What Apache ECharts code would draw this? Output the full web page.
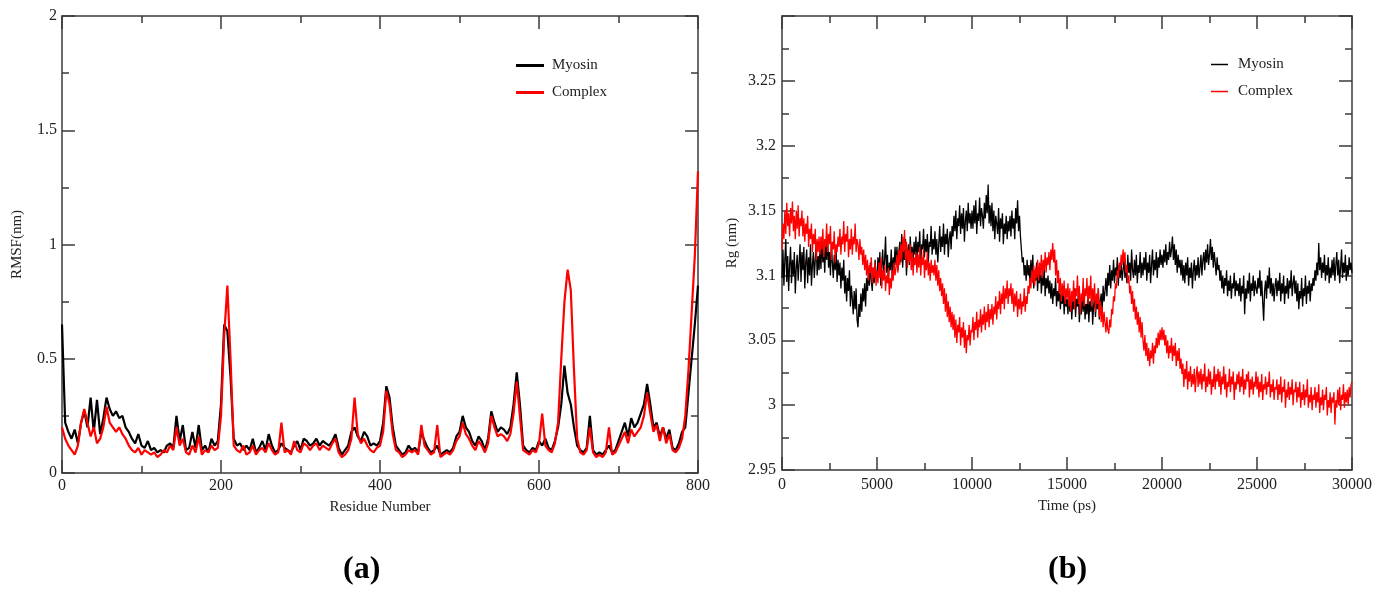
<!DOCTYPE html>
<html>
<head>
<meta charset="utf-8">
<script src="https://cdn.jsdelivr.net/npm/echarts@6/dist/echarts.min.js"></script>
<style>
html,body{margin:0;padding:0;background:#fff;}
#chart{width:1387px;height:596px;}
</style>
</head>
<body>
<div id="chart"></div>
<script>
// ---------- Panel (a): RMSF per residue (sampled every 4 residues) ----------
const residueStep = 4;
const rmsfMyosin = [
0.65,0.22,0.18,0.15,0.19,0.13,0.22,0.27,0.20,0.33,
0.18,0.32,0.17,0.24,0.33,0.28,0.25,0.27,0.24,0.25,
0.20,0.18,0.15,0.13,0.17,0.12,0.11,0.14,0.10,0.11,
0.09,0.10,0.09,0.12,0.13,0.11,0.25,0.14,0.21,0.10,
0.11,0.18,0.11,0.21,0.10,0.12,0.09,0.15,0.12,0.14,
0.30,0.65,0.62,0.42,0.15,0.12,0.13,0.10,0.12,0.10,
0.15,0.09,0.11,0.14,0.10,0.17,0.12,0.09,0.10,0.13,
0.11,0.10,0.09,0.12,0.14,0.10,0.15,0.14,0.12,0.13,
0.15,0.12,0.14,0.13,0.12,0.14,0.17,0.11,0.08,0.10,
0.12,0.18,0.20,0.16,0.14,0.18,0.16,0.12,0.13,0.12,
0.14,0.22,0.38,0.33,0.20,0.12,0.10,0.08,0.09,0.12,
0.10,0.11,0.09,0.18,0.14,0.11,0.09,0.10,0.12,0.08,
0.09,0.10,0.09,0.11,0.16,0.18,0.25,0.20,0.18,0.14,
0.12,0.16,0.14,0.10,0.15,0.27,0.22,0.18,0.20,0.19,
0.17,0.20,0.30,0.44,0.30,0.12,0.10,0.09,0.11,0.10,
0.14,0.12,0.15,0.11,0.10,0.14,0.20,0.30,0.47,0.35,
0.30,0.20,0.12,0.10,0.09,0.11,0.25,0.10,0.08,0.09,
0.08,0.10,0.12,0.09,0.10,0.14,0.18,0.22,0.16,0.24,
0.20,0.22,0.26,0.30,0.39,0.30,0.20,0.22,0.16,0.20,
0.15,0.19,0.11,0.10,0.13,0.18,0.20,0.35,0.50,0.65,
0.82
];
const rmsfComplex = [
0.20,0.15,0.12,0.10,0.08,0.12,0.22,0.28,0.22,0.16,
0.20,0.13,0.15,0.20,0.29,0.22,0.20,0.18,0.20,0.17,
0.15,0.12,0.10,0.09,0.11,0.08,0.10,0.09,0.08,0.09,
0.07,0.08,0.10,0.09,0.12,0.10,0.20,0.12,0.15,0.09,
0.08,0.12,0.09,0.16,0.08,0.10,0.09,0.12,0.10,0.11,
0.25,0.60,0.82,0.50,0.12,0.10,0.09,0.12,0.08,0.09,
0.12,0.08,0.10,0.11,0.09,0.13,0.10,0.08,0.09,0.22,
0.09,0.10,0.08,0.14,0.10,0.09,0.13,0.12,0.10,0.12,
0.13,0.10,0.12,0.11,0.10,0.13,0.15,0.09,0.07,0.08,
0.10,0.15,0.33,0.17,0.13,0.15,0.12,0.10,0.09,0.11,
0.12,0.18,0.36,0.30,0.17,0.10,0.09,0.07,0.08,0.10,
0.09,0.10,0.08,0.21,0.12,0.10,0.08,0.09,0.21,0.07,
0.08,0.09,0.08,0.10,0.14,0.16,0.22,0.17,0.15,0.12,
0.10,0.14,0.12,0.09,0.13,0.25,0.20,0.16,0.17,0.16,
0.14,0.17,0.26,0.40,0.25,0.10,0.09,0.08,0.10,0.09,
0.13,0.26,0.12,0.10,0.09,0.13,0.22,0.50,0.75,0.89,
0.80,0.45,0.15,0.09,0.08,0.10,0.20,0.09,0.07,0.08,
0.07,0.09,0.20,0.08,0.09,0.12,0.15,0.18,0.13,0.19,
0.16,0.18,0.20,0.25,0.35,0.26,0.18,0.21,0.14,0.20,
0.13,0.17,0.10,0.09,0.11,0.15,0.25,0.45,0.70,0.95,
1.32
];

// ---------- Panel (b): Rg vs time (sampled every 50 ps) ----------
const timeStep = 50;
const rgMyosin = [
3.098,3.120,3.092,3.112,3.128,3.095,3.115,3.088,3.108,3.122,3.094,3.112,3.100,3.118,3.086,3.106,3.116,3.096,3.110,3.124,
3.095,3.118,3.104,3.122,3.090,3.110,3.120,3.094,3.114,3.100,3.124,3.092,3.108,3.118,3.098,3.112,3.126,3.100,3.115,3.104,
3.122,3.105,3.128,3.110,3.120,3.102,3.126,3.112,3.130,3.106,3.118,3.100,3.124,3.110,3.098,3.116,3.104,3.120,3.095,3.112,
3.100,3.110,3.090,3.106,3.096,3.112,3.086,3.100,3.080,3.098,3.088,3.104,3.076,3.092,3.082,3.070,3.088,3.074,3.090,3.066,
3.060,3.078,3.068,3.086,3.072,3.090,3.080,3.094,3.076,3.098,3.088,3.104,3.092,3.110,3.096,3.088,3.106,3.094,3.112,3.100,
3.096,3.114,3.102,3.118,3.092,3.108,3.120,3.098,3.112,3.130,3.102,3.116,3.094,3.110,3.104,3.120,3.098,3.114,3.106,3.122,
3.108,3.122,3.104,3.118,3.126,3.110,3.132,3.106,3.120,3.112,3.128,3.100,3.116,3.124,3.108,3.130,3.114,3.122,3.110,3.126,
3.116,3.130,3.112,3.126,3.118,3.134,3.108,3.124,3.120,3.136,3.114,3.128,3.118,3.132,3.110,3.126,3.122,3.138,3.116,3.128,
3.120,3.134,3.116,3.128,3.110,3.124,3.138,3.118,3.130,3.122,3.140,3.116,3.132,3.124,3.136,3.114,3.128,3.134,3.120,3.138,
3.130,3.146,3.134,3.150,3.128,3.144,3.138,3.154,3.132,3.148,3.136,3.152,3.126,3.142,3.150,3.134,3.156,3.140,3.148,3.136,
3.150,3.136,3.154,3.140,3.158,3.132,3.148,3.142,3.160,3.138,3.152,3.146,3.136,3.156,3.144,3.162,3.148,3.170,3.140,3.154,
3.138,3.156,3.134,3.150,3.128,3.146,3.140,3.132,3.152,3.126,3.144,3.136,3.148,3.124,3.140,3.132,3.146,3.128,3.142,3.134,
3.146,3.130,3.150,3.136,3.144,3.128,3.152,3.140,3.158,3.134,3.146,3.130,3.120,3.110,3.114,3.100,3.108,3.096,3.112,3.100,
3.108,3.094,3.112,3.098,3.116,3.090,3.104,3.096,3.110,3.088,3.102,3.094,3.108,3.086,3.100,3.092,3.106,3.084,3.098,3.090,
3.100,3.086,3.096,3.082,3.094,3.078,3.090,3.084,3.098,3.076,3.088,3.080,3.092,3.074,3.086,3.078,3.090,3.070,3.084,3.076,
3.082,3.070,3.088,3.072,3.084,3.066,3.080,3.074,3.090,3.068,3.082,3.076,3.086,3.064,3.078,3.070,3.084,3.072,3.088,3.066,
3.078,3.070,3.086,3.064,3.080,3.072,3.088,3.062,3.076,3.084,3.068,3.082,3.074,3.090,3.066,3.080,3.086,3.072,3.092,3.080,
3.088,3.098,3.084,3.102,3.092,3.108,3.090,3.104,3.096,3.112,3.094,3.106,3.100,3.114,3.092,3.108,3.098,3.110,3.096,3.104,
3.112,3.098,3.108,3.094,3.116,3.102,3.110,3.096,3.120,3.104,3.098,3.112,3.100,3.116,3.094,3.108,3.102,3.118,3.098,3.110,
3.100,3.114,3.104,3.118,3.096,3.110,3.102,3.116,3.094,3.108,3.120,3.100,3.112,3.104,3.118,3.098,3.114,3.106,3.120,3.108,
3.116,3.106,3.120,3.110,3.124,3.108,3.118,3.112,3.126,3.114,3.120,3.130,3.112,3.124,3.108,3.120,3.102,3.116,3.106,3.112,
3.100,3.112,3.096,3.108,3.094,3.110,3.100,3.114,3.092,3.106,3.098,3.110,3.090,3.104,3.112,3.096,3.108,3.100,3.114,3.098,
3.106,3.116,3.100,3.112,3.118,3.104,3.120,3.110,3.124,3.108,3.116,3.128,3.112,3.122,3.106,3.118,3.110,3.100,3.114,3.104,
3.108,3.096,3.104,3.090,3.100,3.086,3.098,3.092,3.104,3.084,3.096,3.088,3.100,3.082,3.094,3.090,3.102,3.084,3.096,3.088,
3.094,3.084,3.098,3.080,3.092,3.086,3.100,3.070,3.090,3.082,3.096,3.086,3.102,3.080,3.094,3.088,3.100,3.084,3.096,3.090,
3.086,3.098,3.090,3.104,3.084,3.096,3.080,3.065,3.088,3.096,3.082,3.100,3.090,3.106,3.086,3.098,3.084,3.094,3.080,3.092,
3.098,3.084,3.096,3.088,3.102,3.080,3.094,3.086,3.100,3.078,3.092,3.086,3.098,3.082,3.096,3.090,3.104,3.084,3.094,3.100,
3.086,3.096,3.080,3.094,3.074,3.088,3.082,3.098,3.076,3.090,3.084,3.100,3.078,3.092,3.086,3.096,3.080,3.094,3.088,3.098,
3.092,3.104,3.096,3.110,3.100,3.125,3.104,3.114,3.098,3.110,3.102,3.116,3.096,3.108,3.100,3.114,3.094,3.106,3.098,3.112,
3.100,3.114,3.096,3.108,3.118,3.100,3.112,3.094,3.106,3.120,3.098,3.110,3.102,3.116,3.096,3.108,3.100,3.114,3.104,3.110,
3.102
];
const rgComplex = [
3.120,3.140,3.128,3.150,3.132,3.156,3.138,3.148,3.130,3.152,3.140,3.157,3.134,3.146,3.128,3.150,3.136,3.154,3.130,3.144,
3.138,3.150,3.130,3.144,3.126,3.140,3.132,3.146,3.122,3.136,3.128,3.140,3.118,3.132,3.124,3.136,3.112,3.128,3.118,3.130,
3.116,3.130,3.120,3.136,3.114,3.128,3.122,3.140,3.118,3.132,3.124,3.138,3.112,3.126,3.120,3.134,3.110,3.124,3.118,3.130,
3.122,3.136,3.116,3.130,3.124,3.142,3.118,3.132,3.126,3.138,3.114,3.128,3.120,3.136,3.116,3.130,3.124,3.140,3.118,3.128,
3.124,3.112,3.128,3.116,3.122,3.108,3.120,3.104,3.116,3.100,3.112,3.096,3.108,3.102,3.114,3.094,3.106,3.098,3.110,3.092,
3.104,3.094,3.110,3.098,3.114,3.090,3.104,3.096,3.108,3.088,3.100,3.094,3.106,3.085,3.098,3.090,3.104,3.096,3.110,3.100,
3.106,3.116,3.102,3.120,3.108,3.124,3.112,3.130,3.118,3.135,3.112,3.126,3.106,3.120,3.110,3.124,3.104,3.118,3.100,3.114,
3.108,3.118,3.102,3.116,3.106,3.122,3.100,3.114,3.108,3.120,3.098,3.112,3.104,3.118,3.100,3.110,3.096,3.112,3.102,3.108,
3.100,3.112,3.096,3.108,3.092,3.104,3.088,3.098,3.084,3.094,3.078,3.090,3.072,3.086,3.068,3.080,3.064,3.076,3.060,3.072,
3.058,3.070,3.052,3.066,3.048,3.062,3.056,3.068,3.046,3.060,3.052,3.064,3.044,3.058,3.040,3.054,3.050,3.062,3.046,3.058,
3.056,3.068,3.050,3.064,3.058,3.072,3.052,3.066,3.060,3.074,3.056,3.070,3.062,3.076,3.058,3.072,3.064,3.078,3.060,3.074,
3.066,3.078,3.062,3.076,3.070,3.084,3.066,3.080,3.074,3.088,3.070,3.086,3.078,3.092,3.074,3.090,3.082,3.096,3.078,3.090,
3.084,3.094,3.078,3.090,3.072,3.086,3.076,3.088,3.068,3.082,3.074,3.086,3.070,3.080,3.076,3.090,3.072,3.084,3.078,3.092,
3.086,3.098,3.090,3.104,3.094,3.108,3.092,3.106,3.098,3.112,3.096,3.110,3.100,3.116,3.098,3.112,3.104,3.118,3.102,3.114,
3.108,3.118,3.104,3.120,3.112,3.125,3.110,3.120,3.100,3.112,3.094,3.104,3.086,3.098,3.080,3.094,3.084,3.096,3.078,3.090,
3.082,3.094,3.076,3.090,3.072,3.088,3.080,3.096,3.074,3.090,3.084,3.100,3.078,3.092,3.070,3.086,3.080,3.098,3.076,3.090,
3.084,3.098,3.078,3.092,3.082,3.100,3.076,3.090,3.080,3.094,3.072,3.086,3.078,3.090,3.068,3.080,3.064,3.076,3.060,3.072,
3.064,3.056,3.068,3.058,3.055,3.066,3.060,3.074,3.070,3.084,3.080,3.094,3.090,3.104,3.098,3.110,3.104,3.116,3.108,3.120,
3.110,3.118,3.102,3.108,3.094,3.100,3.086,3.092,3.078,3.088,3.072,3.082,3.066,3.076,3.062,3.072,3.056,3.068,3.052,3.064,
3.050,3.042,3.054,3.038,3.048,3.034,3.044,3.030,3.042,3.036,3.048,3.032,3.046,3.040,3.052,3.044,3.056,3.046,3.058,3.050,
3.060,3.050,3.058,3.046,3.054,3.040,3.050,3.036,3.046,3.040,3.052,3.034,3.046,3.038,3.048,3.030,3.042,3.034,3.044,3.028,
3.036,3.024,3.032,3.014,3.028,3.020,3.034,3.012,3.026,3.018,3.030,3.014,3.024,3.016,3.028,3.010,3.022,3.030,3.014,3.026,
3.016,3.028,3.012,3.024,3.018,3.032,3.010,3.022,3.014,3.028,3.016,3.026,3.008,3.020,3.014,3.030,3.012,3.024,3.018,3.028,
3.014,3.026,3.008,3.022,3.016,3.030,3.012,3.024,3.006,3.018,3.014,3.028,3.010,3.022,3.016,3.026,3.004,3.018,3.012,3.024,
3.016,3.026,3.010,3.022,3.014,3.028,3.008,3.020,3.012,3.024,3.018,3.026,3.006,3.020,3.012,3.022,3.008,3.018,3.014,3.026,
3.012,3.022,3.006,3.018,3.010,3.024,3.004,3.016,3.012,3.022,3.008,3.018,3.014,3.026,3.006,3.016,3.010,3.020,3.004,3.014,
3.012,3.020,3.004,3.016,3.008,3.022,3.002,3.014,3.010,3.020,2.998,3.012,3.006,3.018,3.004,3.014,3.008,3.020,3.000,3.012,
3.010,3.018,3.002,3.014,3.006,3.018,2.998,3.010,3.004,3.016,3.000,3.012,3.006,3.020,2.998,3.008,3.002,3.014,2.996,3.008,
3.004,3.014,2.998,3.010,3.002,3.016,2.994,3.006,3.000,3.012,2.996,3.008,3.004,3.014,2.992,3.004,2.998,3.010,2.994,3.006,
3.002,3.010,2.985,3.004,2.998,3.012,3.000,3.014,2.996,3.008,3.004,3.016,2.998,3.010,3.002,3.012,3.000,3.014,3.006,3.016,
3.018
];

const legendNames = ['Myosin', 'Complex'];
const panelLabels = ['(a)', '(b)'];

function pairs(step, arr) { return arr.map((v, i) => [i * step, v]); }

const FONT = 'Liberation Serif';
const AX = '#3a3a3a';
const lbl = { fontFamily: FONT, fontSize: 16, color: '#222' };
const nameStyle = { fontFamily: FONT, fontSize: 15, color: '#222' };

function axisCommon(extra) {
  return Object.assign({
    axisLine: { show: true, onZero: false, lineStyle: { color: AX, width: 1.5 } },
    axisTick: { show: true, inside: true, length: 13, lineStyle: { color: AX, width: 1.5 } },
    minorTick: { show: true, splitNumber: 2, length: 7, lineStyle: { color: AX, width: 1.5 } },
    splitLine: { show: false },
    minorSplitLine: { show: false }
  }, extra);
}

const chart = echarts.init(document.getElementById('chart'), null, { renderer: 'canvas' });
chart.setOption({
  animation: false,
  backgroundColor: '#fff',
  grid: [
    { left: 62, top: 16, width: 636, height: 457 },
    { left: 782, top: 16, width: 570, height: 454 }
  ],
  legend: [
    { data: legendNames.map(n => ({ name: n })), orient: 'vertical', left: 511, top: 53,
      icon: 'rect', itemWidth: 28, itemHeight: 3, itemGap: 12,
      textStyle: { fontFamily: FONT, fontSize: 15, color: '#222', padding: [0, 0, 0, 3] },
      selectedMode: false },
    { data: legendNames.map(n => ({ name: n + ' ' })), orient: 'vertical', left: 1206, top: 52,
      icon: 'rect', itemWidth: 17, itemHeight: 1.5, itemGap: 12,
      textStyle: { fontFamily: FONT, fontSize: 15, color: '#222', padding: [0, 0, 0, 5] },
      selectedMode: false }
  ],
  xAxis: [
    axisCommon({ gridIndex: 0, type: 'value', min: 0, max: 800, interval: 200,
      name: 'Residue Number', nameLocation: 'middle', nameGap: 27, nameTextStyle: nameStyle,
      axisLabel: Object.assign({ margin: 5, formatter: v => String(v) }, lbl) }),
    axisCommon({ gridIndex: 0, type: 'value', min: 0, max: 800, interval: 200, position: 'top',
      axisLabel: { show: false } }),
    axisCommon({ gridIndex: 1, type: 'value', min: 0, max: 30000, interval: 5000,
      name: 'Time (ps)', nameLocation: 'middle', nameGap: 29, nameTextStyle: nameStyle,
      axisLabel: Object.assign({ margin: 7, formatter: v => String(v) }, lbl) }),
    axisCommon({ gridIndex: 1, type: 'value', min: 0, max: 30000, interval: 5000, position: 'top',
      axisLabel: { show: false } })
  ],
  yAxis: [
    axisCommon({ gridIndex: 0, type: 'value', min: 0, max: 2, interval: 0.5,
      name: 'RMSF(nm)', nameLocation: 'middle', nameGap: 37, nameTextStyle: nameStyle,
      axisLabel: Object.assign({ margin: 5, formatter: v => String(+v.toFixed(2)) }, lbl) }),
    axisCommon({ gridIndex: 0, type: 'value', min: 0, max: 2, interval: 0.5, position: 'right',
      axisLabel: { show: false } }),
    axisCommon({ gridIndex: 1, type: 'value', min: 2.95, max: 3.3, interval: 0.05,
      name: 'Rg (nm)', nameLocation: 'middle', nameGap: 42, nameTextStyle: nameStyle,
      axisLabel: Object.assign({ margin: 6, formatter: v => v > 3.29 ? '' : String(+v.toFixed(2)) }, lbl) }),
    axisCommon({ gridIndex: 1, type: 'value', min: 2.95, max: 3.3, interval: 0.05, position: 'right',
      axisLabel: { show: false } })
  ],
  graphic: [
    { type: 'text', left: 343, top: 554, style: { text: panelLabels[0], font: 'bold 32px "Liberation Serif"', fill: '#000' } },
    { type: 'text', left: 1048, top: 554, style: { text: panelLabels[1], font: 'bold 32px "Liberation Serif"', fill: '#000' } }
  ],
  series: [
    { name: legendNames[0], type: 'line', xAxisIndex: 0, yAxisIndex: 0, data: pairs(residueStep, rmsfMyosin),
      showSymbol: false, symbol: 'none', lineStyle: { color: '#000', width: 2.2 }, itemStyle: { color: '#000' } },
    { name: legendNames[1], type: 'line', xAxisIndex: 0, yAxisIndex: 0, data: pairs(residueStep, rmsfComplex),
      showSymbol: false, symbol: 'none', lineStyle: { color: '#ff0000', width: 2.2 }, itemStyle: { color: '#ff0000' } },
    { name: legendNames[0] + ' ', type: 'line', xAxisIndex: 2, yAxisIndex: 2, data: pairs(timeStep, rgMyosin),
      showSymbol: false, symbol: 'none', lineStyle: { color: '#000', width: 1.3 }, itemStyle: { color: '#000' } },
    { name: legendNames[1] + ' ', type: 'line', xAxisIndex: 2, yAxisIndex: 2, data: pairs(timeStep, rgComplex),
      showSymbol: false, symbol: 'none', lineStyle: { color: '#ff0000', width: 1.3 }, itemStyle: { color: '#ff0000' } }
  ]
});
</script>
</body>
</html>
